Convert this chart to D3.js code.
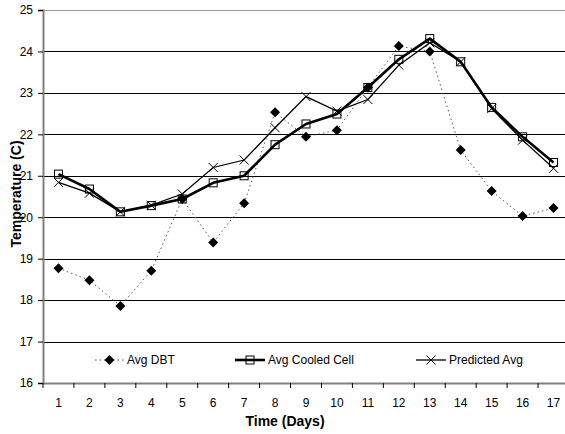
<!DOCTYPE html>
<html><head><meta charset="utf-8">
<script src="https://cdn.jsdelivr.net/npm/d3@7"></script>
<style>body{margin:0;background:#fff}svg{display:block}text{font-family:"Liberation Sans",Arial,sans-serif}</style>
</head><body><svg id="c" width="565" height="434"></svg>
<script>
const days = [1,2,3,4,5,6,7,8,9,10,11,12,13,14,15,16,17];
const avgDBT = [18.77,18.48,17.86,18.71,20.44,19.39,20.34,22.53,21.94,22.10,23.13,24.13,24.00,21.62,20.63,20.03,20.22];
const avgCooled = [21.04,20.68,20.13,20.28,20.44,20.83,21.00,21.75,22.25,22.49,23.13,23.81,24.31,23.75,22.65,21.94,21.32];
const predicted = [20.84,20.58,20.13,20.29,20.56,21.20,21.38,22.16,22.91,22.56,22.84,23.67,24.21,23.75,22.62,21.86,21.18];
const yTicks = [16,17,18,19,20,21,22,23,24,25];
const seriesNames = ["Avg DBT","Avg Cooled Cell","Predicted Avg"];

const svg = d3.select("#c");
const L = 43, R = 569, T = 10, B = 383;
const x = d3.scaleBand().domain(days).range([L, R]);
const y = d3.scaleLinear().domain([16, 25]).range([B, T]);
const cx = d => x(d) + x.bandwidth()/2;
const FONT = "Liberation Sans, Arial, sans-serif";

// gridlines
svg.append("g").selectAll("line").data(yTicks.filter(v=>v>16)).join("line")
  .attr("x1", L).attr("x2", R).attr("y1", d=>Math.round(y(d))+0.5).attr("y2", d=>Math.round(y(d))+0.5)
  .attr("stroke", d=>d===25?"#999":"#000").attr("stroke-width",1);

// y axis
const ya = svg.append("g").attr("transform",`translate(${L},0)`)
  .call(d3.axisLeft(y).tickValues(yTicks).tickSize(5).tickPadding(5));
ya.select(".domain").attr("stroke","#808080").attr("stroke-width",2);
ya.selectAll(".tick line").attr("stroke","#000");
ya.selectAll("text").attr("font-size",12).attr("fill","#000").attr("font-family",FONT);

// x axis
const xa = svg.append("g").attr("transform",`translate(0,${B})`)
  .call(d3.axisBottom(x).tickSize(0).tickPadding(15.5));
xa.select(".domain").attr("stroke","#808080").attr("stroke-width",2);
xa.selectAll("text").attr("font-size",12).attr("fill","#000").attr("font-family",FONT);
svg.append("g").selectAll("line").data(d3.range(days.length+1)).join("line")
  .attr("x1", i=>L + i*x.step()).attr("x2", i=>L + i*x.step())
  .attr("y1", B).attr("y2", B+5).attr("stroke","#000");

// axis titles
svg.append("text").attr("x",285).attr("y",426).attr("text-anchor","middle")
  .attr("font-size",14).attr("font-weight","bold").text("Time (Days)");
svg.append("text").attr("transform",`translate(21,194) rotate(-90)`).attr("text-anchor","middle")
  .attr("font-size",14).attr("font-weight","bold").text("Temperature (C)");

const line = d3.line().x((d,i)=>cx(days[i])).y(d=>y(d));
// lines
svg.append("path").attr("d", line(avgDBT)).attr("fill","none").attr("stroke","#555").attr("stroke-width",1).attr("stroke-dasharray","1.5,3");
svg.append("path").attr("d", line(avgCooled)).attr("fill","none").attr("stroke","#000").attr("stroke-width",2.6).attr("stroke-linejoin","round");
svg.append("path").attr("d", line(predicted)).attr("fill","none").attr("stroke","#000").attr("stroke-width",1.3);

function diamond(g, px, py){ g.append("path").attr("d",`M${px},${py-5}L${px+5},${py}L${px},${py+5}L${px-5},${py}Z`).attr("fill","#000"); }
function square(g, px, py){ g.append("rect").attr("x",px-4).attr("y",py-4).attr("width",8).attr("height",8).attr("fill","none").attr("stroke","#000").attr("stroke-width",1); }
function cross(g, px, py){ g.append("path").attr("d",`M${px-4.5},${py-4.5}L${px+4.5},${py+4.5}M${px-4.5},${py+4.5}L${px+4.5},${py-4.5}`).attr("stroke","#000").attr("stroke-width",1); }

const mk = svg.append("g");
avgDBT.forEach((v,i)=>diamond(mk, cx(days[i]), y(v)));
avgCooled.forEach((v,i)=>square(mk, cx(days[i]), y(v)));
predicted.forEach((v,i)=>cross(mk, cx(days[i]), y(v)));

// legend
const lg = svg.append("g");
const ly = 360;
const legendItems = [
  {name: seriesNames[0], x1: 95, x2: 124, draw: (g,px)=>diamond(g,px,ly), style: l=>l.attr("stroke","#555").attr("stroke-width",1).attr("stroke-dasharray","1.5,3")},
  {name: seriesNames[1], x1: 235, x2: 265, draw: (g,px)=>square(g,px,ly), style: l=>l.attr("stroke","#000").attr("stroke-width",2.6)},
  {name: seriesNames[2], x1: 416, x2: 446, draw: (g,px)=>cross(g,px,ly), style: l=>l.attr("stroke","#000").attr("stroke-width",1.3)}
];
legendItems.forEach(it=>{
  it.style(lg.append("line").attr("x1",it.x1).attr("x2",it.x2).attr("y1",ly).attr("y2",ly));
  it.draw(lg,(it.x1+it.x2)/2);
  lg.append("text").attr("x",it.x2+3).attr("y",ly+4).attr("font-size",12).text(it.name);
});
</script></body></html>
